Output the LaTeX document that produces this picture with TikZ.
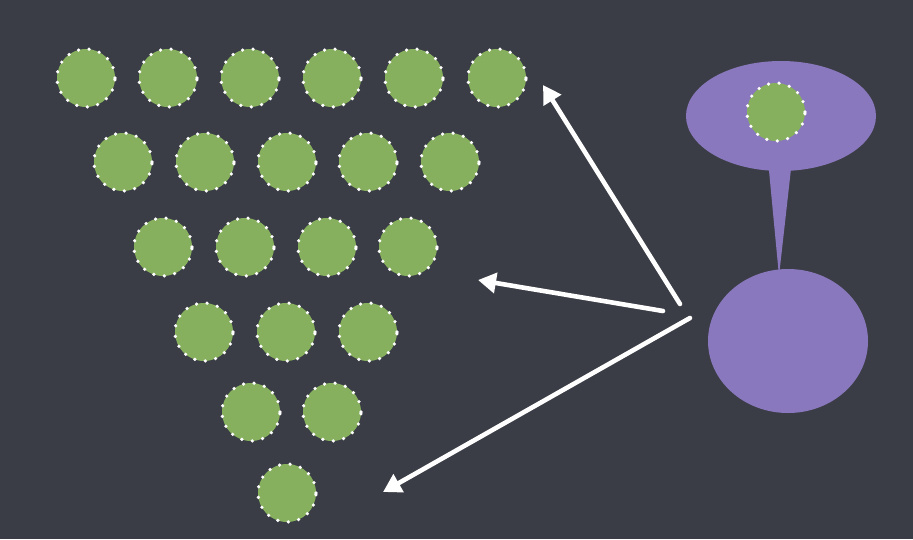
\documentclass[tikz,border=0pt]{standalone}
\usepackage{tikz}
\usetikzlibrary{arrows.meta}

\definecolor{board}{RGB}{58,61,70}
\definecolor{pea}{RGB}{134,176,94}
\definecolor{lilac}{RGB}{138,120,190}

\tikzset{
    pea/.style={circle,minimum size=58pt,inner sep=0pt,fill=pea,
        draw=white,line width=3.6pt,line cap=round,
        dash pattern=on 0pt off 10.6pt},
    chalk/.style={white,line width=4.6pt,line cap=round,
        -{Triangle[width=20pt,length=18pt]}}
}

\begin{document}
\begin{tikzpicture}[x=1pt,y=-1pt]

% Board
\fill[board] (0,0) rectangle (913,539);

% Peas, row by row
\node[pea] (p11) at (86,78) {};
\node[pea] (p12) at (168,78) {};
\node[pea] (p13) at (250,78) {};
\node[pea] (p14) at (332,78) {};
\node[pea] (p15) at (414,78) {};
\node[pea] (p16) at (497,78) {};

\node[pea] (p21) at (123,162) {};
\node[pea] (p22) at (205,162) {};
\node[pea] (p23) at (287,162) {};
\node[pea] (p24) at (368,162) {};
\node[pea] (p25) at (450,162) {};

\node[pea] (p31) at (163,247) {};
\node[pea] (p32) at (245,247) {};
\node[pea] (p33) at (327,247) {};
\node[pea] (p34) at (408,247) {};

\node[pea] (p41) at (204,332) {};
\node[pea] (p42) at (286,332) {};
\node[pea] (p43) at (368,332) {};

\node[pea] (p51) at (251,412) {};
\node[pea] (p52) at (332,412) {};

\node[pea] (p61) at (287,493) {};

% Thought bubble
\fill[lilac] (781,116) ellipse (95 and 55);
\fill[lilac] (768,160) -- (792,160) -- (779,276) -- cycle;
\fill[lilac] (788,341) ellipse (80 and 72);
\node[pea] (thought) at (776,112) {};

% Chalk arrows
\coordinate (s1) at (680,304);
\coordinate (s2) at (663,311);
\coordinate (s3) at (690,318);
\coordinate (t1) at (543,85);
\coordinate (t2) at (478,280);
\coordinate (t3) at (383,492);
\draw[chalk] (s1) -- (t1);
\draw[chalk] (s2) -- (t2);
\draw[chalk] (s3) -- (t3);

\end{tikzpicture}
\end{document}
